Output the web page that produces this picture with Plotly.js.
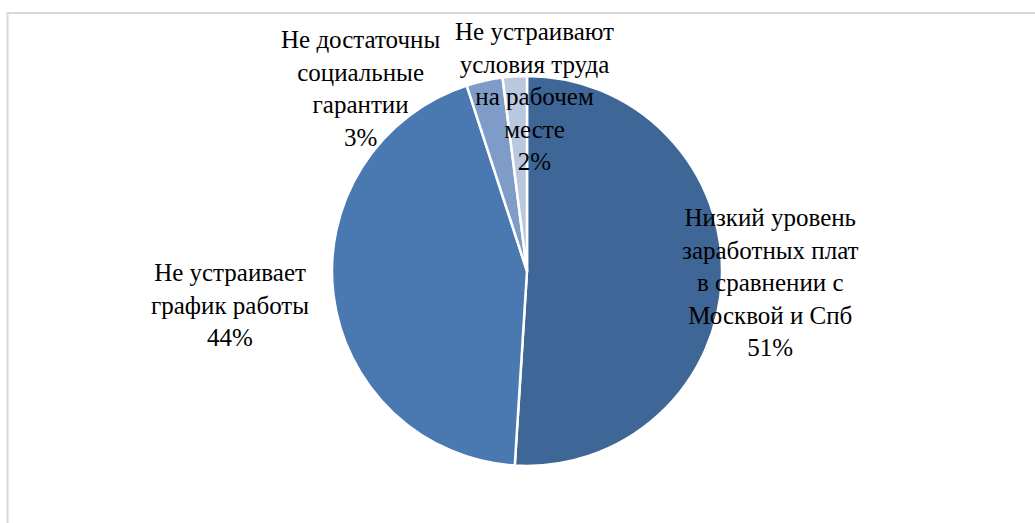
<!DOCTYPE html>
<html>
<head>
<meta charset="utf-8">
<script src="https://cdn.plot.ly/plotly-3.0.1.min.js"></script>
<style>html,body{margin:0;padding:0;background:#fff;}#chart{width:1035px;height:523px;}</style>
</head>
<body>
<div id="chart"></div>
<script>
const categories = [
  "Низкий уровень<br>заработных плат<br>в сравнении с<br>Москвой и Спб",
  "Не устраивает<br>график работы",
  "Не достаточны<br>социальные<br>гарантии",
  "Не устраивают<br>условия труда<br>на рабочем<br>месте"
];
const values = [51, 44, 3, 2];
const colors = ["#3E6696", "#4A79B2", "#7F9CC8", "#BAC8DF"];
const labelPos = [[770, 282], [230, 305], [360, 88], [534, 96]];

const W = 1035, H = 523;
const cx = 527, cy = 271, r = 195;

const trace = {
  type: "pie",
  values: values,
  labels: categories,
  sort: false,
  direction: "clockwise",
  rotation: 0,
  textinfo: "none",
  hoverinfo: "label+percent",
  marker: { colors: colors, line: { color: "#ffffff", width: 2.5 } },
  domain: { x: [(cx - r) / W, (cx + r) / W], y: [(H - cy - r) / H, (H - cy + r) / H] },
  showlegend: false
};

const FONT = "'Liberation Serif', 'Times New Roman', serif";

const annotations = categories.map((c, i) => ({
  xref: "paper", yref: "paper",
  x: labelPos[i][0] / W, y: 1 - labelPos[i][1] / H,
  xanchor: "center", yanchor: "middle",
  text: c + "<br>" + values[i] + "%",
  showarrow: false,
  align: "center",
  font: { family: FONT, size: 25, color: "#000000" }
}));

const layout = {
  width: W, height: H,
  margin: { l: 0, r: 0, t: 0, b: 0 },
  paper_bgcolor: "#ffffff",
  font: { family: FONT },
  annotations: annotations,
  shapes: [{
    type: "rect", xref: "paper", yref: "paper",
    x0: 7.5 / W, x1: 1.02, y0: -0.02, y1: 1 - 13 / H,
    line: { color: "#D9D9D9", width: 2 }, fillcolor: "rgba(0,0,0,0)", layer: "below"
  }]
};

Plotly.newPlot("chart", [trace], layout, { displayModeBar: false, staticPlot: true });
</script>
</body>
</html>
